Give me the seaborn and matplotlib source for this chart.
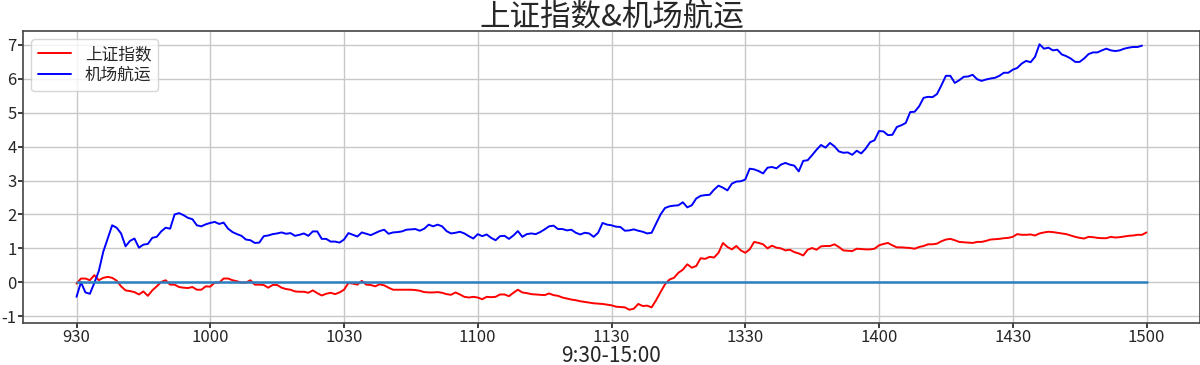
import matplotlib
matplotlib.use("Agg")
import matplotlib.pyplot as plt
from matplotlib.ticker import MultipleLocator
import seaborn as sns
import pandas as pd

# ---- data ----
tick_pos = [0, 30, 60, 90, 120, 150, 180, 210, 240]
tick_labels = ['930', '1000', '1030', '1100', '1130', '1330', '1400', '1430', '1500']

sh_index = [
    -0.04, 0.11, 0.11, 0.06, 0.21, 0.06, 0.13, 0.16, 0.13, 0.05,
    -0.12, -0.24, -0.26, -0.29, -0.36, -0.27, -0.40, -0.24, -0.12, 0.01,
    0.06, -0.07, -0.07, -0.14, -0.16, -0.17, -0.14, -0.22, -0.22, -0.12,
    -0.13, -0.01, -0.01, 0.11, 0.11, 0.06, 0.03, -0.01, -0.01, 0.06,
    -0.07, -0.07, -0.08, -0.16, -0.08, -0.08, -0.16, -0.20, -0.22, -0.27,
    -0.28, -0.28, -0.31, -0.24, -0.32, -0.39, -0.34, -0.31, -0.35, -0.30,
    -0.22, -0.02, -0.04, -0.07, 0.04, -0.07, -0.08, -0.12, -0.06, -0.09,
    -0.16, -0.22, -0.22, -0.22, -0.22, -0.22, -0.23, -0.25, -0.29, -0.30,
    -0.30, -0.29, -0.31, -0.35, -0.37, -0.30, -0.36, -0.43, -0.45, -0.43,
    -0.45, -0.50, -0.43, -0.44, -0.43, -0.36, -0.36, -0.41, -0.31, -0.22,
    -0.30, -0.32, -0.35, -0.36, -0.37, -0.38, -0.33, -0.38, -0.40, -0.45,
    -0.48, -0.51, -0.53, -0.56, -0.58, -0.60, -0.62, -0.63, -0.64, -0.66,
    -0.68, -0.72, -0.73, -0.74, -0.81, -0.78, -0.64, -0.70, -0.69, -0.74,
    -0.53, -0.29, -0.06, 0.08, 0.13, 0.28, 0.37, 0.53, 0.43, 0.48,
    0.71, 0.69, 0.75, 0.73, 0.87, 1.16, 1.04, 0.97, 1.07, 0.94,
    0.87, 0.97, 1.19, 1.16, 1.12, 1.00, 1.08, 1.02, 1.00, 0.94,
    0.96, 0.89, 0.85, 0.79, 0.96, 1.01, 0.96, 1.06, 1.07, 1.07,
    1.12, 1.04, 0.94, 0.93, 0.92, 0.99, 0.98, 0.97, 0.97, 0.99,
    1.09, 1.13, 1.16, 1.09, 1.03, 1.03, 1.02, 1.01, 0.99, 1.04,
    1.07, 1.12, 1.12, 1.14, 1.21, 1.26, 1.28, 1.24, 1.19, 1.18,
    1.17, 1.16, 1.19, 1.19, 1.22, 1.26, 1.27, 1.28, 1.30, 1.31,
    1.34, 1.42, 1.40, 1.40, 1.41, 1.38, 1.44, 1.47, 1.49, 1.48,
    1.46, 1.44, 1.42, 1.38, 1.34, 1.31, 1.29, 1.34, 1.33, 1.31,
    1.30, 1.30, 1.34, 1.32, 1.33, 1.35, 1.37, 1.38, 1.40, 1.40,
    1.47,
]

airport = [
    -0.43, 0.00, -0.30, -0.34, -0.02, 0.33, 0.90, 1.29, 1.68, 1.61,
    1.44, 1.06, 1.22, 1.29, 1.02, 1.11, 1.13, 1.31, 1.34, 1.50,
    1.61, 1.58, 2.00, 2.04, 1.98, 1.90, 1.86, 1.68, 1.65, 1.71,
    1.75, 1.78, 1.72, 1.76, 1.58, 1.48, 1.42, 1.37, 1.26, 1.24,
    1.16, 1.17, 1.36, 1.38, 1.42, 1.44, 1.47, 1.43, 1.45, 1.37,
    1.40, 1.44, 1.37, 1.50, 1.50, 1.28, 1.28, 1.20, 1.20, 1.17,
    1.26, 1.45, 1.40, 1.35, 1.47, 1.43, 1.39, 1.45, 1.51, 1.55,
    1.43, 1.47, 1.48, 1.50, 1.55, 1.56, 1.57, 1.52, 1.58, 1.70,
    1.65, 1.70, 1.65, 1.51, 1.44, 1.46, 1.49, 1.44, 1.36, 1.29,
    1.42, 1.36, 1.41, 1.31, 1.24, 1.36, 1.37, 1.28, 1.38, 1.51,
    1.34, 1.42, 1.44, 1.42, 1.48, 1.56, 1.65, 1.67, 1.57, 1.57,
    1.53, 1.55, 1.46, 1.41, 1.46, 1.44, 1.34, 1.46, 1.75, 1.70,
    1.68, 1.64, 1.63, 1.52, 1.53, 1.56, 1.52, 1.49, 1.44, 1.46,
    1.73, 2.00, 2.19, 2.24, 2.26, 2.27, 2.36, 2.21, 2.27, 2.47,
    2.55, 2.57, 2.58, 2.73, 2.85, 2.79, 2.71, 2.91, 2.97, 2.98,
    3.03, 3.35, 3.33, 3.28, 3.21, 3.38, 3.40, 3.36, 3.47, 3.52,
    3.47, 3.44, 3.27, 3.58, 3.60, 3.75, 3.91, 4.05, 3.97, 4.11,
    4.01, 3.86, 3.82, 3.83, 3.76, 3.88, 3.80, 3.94, 4.13, 4.19,
    4.46, 4.45, 4.34, 4.35, 4.58, 4.63, 4.70, 5.02, 5.03, 5.19,
    5.44, 5.47, 5.46, 5.55, 5.81, 6.09, 6.09, 5.88, 5.96, 6.06,
    6.07, 6.12, 5.99, 5.94, 5.98, 6.01, 6.03, 6.09, 6.18, 6.18,
    6.27, 6.32, 6.45, 6.53, 6.49, 6.65, 7.02, 6.89, 6.92, 6.84,
    6.86, 6.72, 6.67, 6.60, 6.50, 6.50, 6.60, 6.73, 6.78, 6.78,
    6.84, 6.89, 6.84, 6.82, 6.84, 6.89, 6.92, 6.94, 6.94, 6.98,
]

baseline = [0.0] * len(sh_index)

# ---- style ----
sns.set_theme(style="ticks")
plt.rcParams['font.family'] = ['Noto Sans CJK SC', 'DejaVu Sans']
plt.rcParams['axes.unicode_minus'] = False

fig = plt.figure(figsize=(12, 3.65), dpi=100)
ax = fig.add_axes([23 / 1200, 42 / 365, 1177 / 1200, 292 / 365])

df_sh = pd.DataFrame({'t': range(len(sh_index)), 'v': sh_index})
df_ap = pd.DataFrame({'t': range(len(airport)), 'v': airport})
df_0 = pd.DataFrame({'t': range(len(baseline)), 'v': baseline})

sns.lineplot(data=df_sh, x='t', y='v', color='red', linewidth=1.4, label='上证指数', ax=ax)
sns.lineplot(data=df_ap, x='t', y='v', color='blue', linewidth=1.4, label='机场航运', ax=ax)
sns.lineplot(data=df_0, x='t', y='v', color='#2a7fc0', linewidth=1.8, ax=ax, legend=False)

ax.set_xticks(tick_pos)
ax.set_xticklabels(tick_labels)
ax.yaxis.set_major_locator(MultipleLocator(1))
ax.tick_params(axis='both', labelsize=12, colors='.15', length=3.5)
ax.tick_params(axis='x', pad=1)
ax.tick_params(axis='y', pad=1)
ax.grid(True, color='#c8c8c8', linewidth=1.0)
ax.set_axisbelow(True)
for s in ax.spines.values():
    s.set_color('#444444')
    s.set_linewidth(1.2)

ax.set_xlabel('9:30-15:00', fontsize=15, va='center')
ax.xaxis.set_label_coords(0.5, (323 - 356) / 292)
ax.set_ylabel('')
ax.set_title('上证指数&机场航运', fontsize=22, pad=0, y=(323 - 17) / 292, va='center')
ax.legend(loc='upper left', fontsize=12, frameon=True, fancybox=True, framealpha=0.8,
          labelspacing=0.25, borderpad=0.4, handletextpad=0.8)

fig.savefig('out.png', dpi=100)
